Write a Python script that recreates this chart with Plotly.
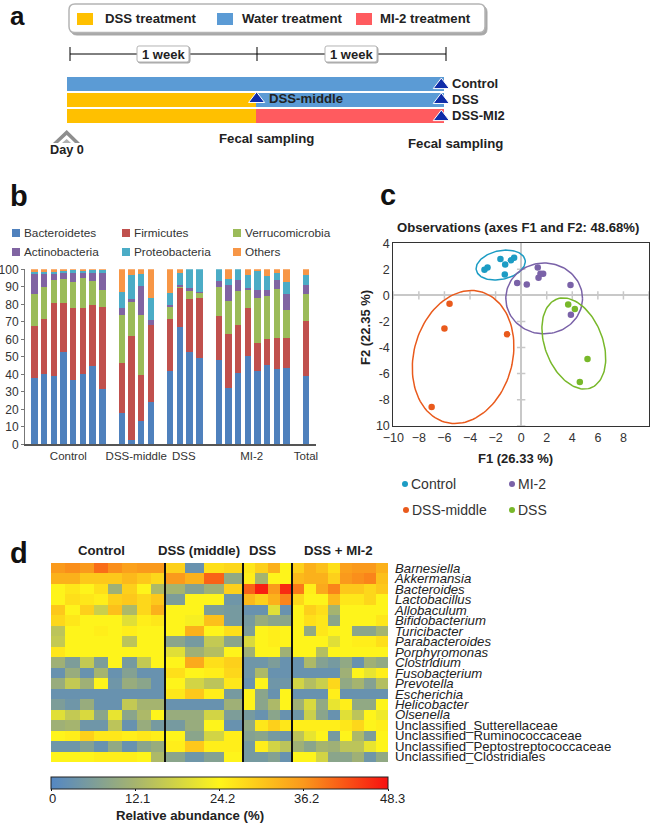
import numpy as np
import plotly.graph_objects as go

W, H = 651, 823
FONT = "Liberation Sans"
INK = "#222222"

# ---------- panel a data ----------
TREATMENT_ROWS = ["Control", "DSS", "DSS-MI2"]
DSS_DAYS = [0, 7, 7]
WATER_DAYS = [14, 7, 0]
MI2_DAYS = [0, 0, 7]
SAMPLING_DAY = [13.9, 13.9, 13.9, 7.05]
SAMPLING_ROW = [0.1, 1.03, 2.1, 0.97]

# ---------- panel b data ----------
SAMPLE_SLOTS = [0, 1, 2, 3, 4, 5, 6, 7, 9, 10, 11, 12, 14, 15, 16, 17, 19, 20, 21, 22, 23, 24, 25, 26, 28]
GROUP_TICKS = [3.5, 10.5, 15.4, 22.4, 28]
GROUP_LABELS = ["Control", "DSS-middle", "DSS", "MI-2", "Total"]
BACTEROIDETES = [37.5, 40, 39, 52.5, 36.5, 40, 44.5, 31.5, 17.5, 2.5, 13, 24, 42, 67, 52.5, 49, 47.8, 31.8, 40.4, 50.5, 41.5, 45, 43, 43.6, 39]
FIRMICUTES = [30, 31.5, 41.5, 28, 41.5, 38, 35, 47, 29, 59, 26.5, 44, 29.5, 22.5, 30.5, 34.4, 25.5, 31.2, 27.6, 27.2, 16, 15, 17.8, 17.2, 31.3]
VERRUCOMICROBIA = [18.5, 18.5, 13, 14, 14.5, 17, 13.5, 9.5, 27.5, 19.5, 34.5, 0, 7, 0.5, 4.6, 3.2, 16.7, 19, 19.6, 10.3, 25.9, 24.8, 27.8, 16, 15.7]
ACTINOBACTERIA = [11.5, 7, 4, 3, 5, 2.5, 4.5, 10, 4, 2, 16.5, 3, 1, 1, 1.4, 0.4, 3, 9, 6.4, 1, 4.6, 3.2, 5.4, 9.2, 5]
PROTEOBACTERIA = [1, 1.5, 1, 1.5, 2, 1.5, 2, 1.5, 9, 13.5, 6.5, 12.5, 7, 7, 11, 13, 7, 3.5, 6, 7.4, 10.7, 8, 4, 6.8, 5.8]
OTHERS = [1.5, 1.5, 1.5, 1, 0.5, 1, 0.5, 0.5, 13, 3.5, 3, 16.5, 13.5, 2, 0, 0, 0, 5.5, 0, 3.6, 1.3, 4, 2, 7.2, 3.2]
PHYLA = [("Bacteroidetes", BACTEROIDETES, "#4F81BD"), ("Firmicutes", FIRMICUTES, "#C0504D"),
         ("Verrucomicrobia", VERRUCOMICROBIA, "#9BBB59"), ("Actinobacteria", ACTINOBACTERIA, "#8064A2"),
         ("Proteobacteria", PROTEOBACTERIA, "#4BACC6"), ("Others", OTHERS, "#F79646")]

# ---------- panel c data ----------
CONTROL_F1 = [-1.62, -0.55, -0.8, -1.25, -2.63, -2.87, -1.28]
CONTROL_F2 = [2.79, 2.89, 2.69, 2.38, 2.15, 1.97, 1.61]
MI2_F1 = [1.3, 1.51, 1.72, 1.36, -0.31, 0.44, 3.86, 3.89]
MI2_F2 = [2.15, 1.66, 1.66, 1.36, 0.95, 0.84, 0.79, -1.48]
MIDDLE_F1 = [-5.6, -6.0, -1.1, -7.0]
MIDDLE_F2 = [-0.64, -2.53, -2.99, -8.57]
DSS_F1 = [3.68, 4.2, 5.19, 4.59]
DSS_F2 = [-0.69, -1.05, -4.89, -6.65]
GROUPS_C = [("Control", CONTROL_F1, CONTROL_F2, "#1C9CC4", (-1.6, 2.33, 1.95, 1.1, 11.7)),
            ("MI-2", MI2_F1, MI2_F2, "#7A62A8", (1.8, -0.23, 3.0, 2.72, 0)),
            ("DSS-middle", MIDDLE_F1, MIDDLE_F2, "#E95A1C", (-4.54, -4.73, 5.2, 3.85, 73.7)),
            ("DSS", DSS_F1, DSS_F2, "#78B82A", (4.12, -3.69, 3.66, 2.25, 111.9))]

# ---------- panel d data ----------
GENERA = ["Barnesiella", "Akkermansia", "Bacteroides", "Lactobacillus", "Allobaculum", "Bifidobacterium",
          "Turicibacter", "Parabacteroides", "Porphyromonas", "Clostridium", "Fusobacterium", "Prevotella",
          "Escherichia", "Helicobacter", "Olsenella"]
UNCLASSIFIED = ["Unclassified_Sutterellaceae", "Unclassified_Ruminococcaceae",
                "Unclassified_Peptostreptococcaceae", "Unclassified_Clostridiales"]
ABUNDANCE = [
    [36, 37, 36, 40, 37, 35, 36, 36, 29, 3, 27, 28, 26, 29, 33, 24, 29, 33, 31, 27, 35, 36, 36, 33],
    [33, 33, 30, 30, 30, 32, 30, 28, 36, 33, 41, 9, 25, 12, 24, 24, 32, 33, 33, 29, 36, 37, 38, 31],
    [24, 26, 24, 27, 11, 29, 24, 13, 12, 7, 11, 29, 41, 47, 36, 46, 39, 25, 34, 38, 30, 30, 28, 30],
    [24, 27, 26, 25, 29, 30, 28, 30, 6, 24, 24, 4, 32, 29, 33, 38, 28, 24, 24, 32, 26, 26, 28, 24],
    [30, 24, 29, 17, 31, 13, 28, 33, 24, 24, 6, 5, 3, 3, 20, 3, 24, 29, 27, 12, 24, 24, 24, 24],
    [28, 26, 24, 24, 24, 20, 25, 26, 24, 23, 31, 5, 5, 10, 8, 8, 24, 27, 26, 8, 24, 24, 24, 26],
    [15, 24, 24, 25, 24, 25, 24, 24, 24, 33, 24, 27, 6, 24, 25, 24, 24, 9, 26, 24, 24, 8, 8, 12],
    [16, 24, 24, 24, 24, 15, 24, 24, 8, 5, 16, 8, 19, 24, 25, 24, 24, 24, 24, 20, 24, 25, 25, 27],
    [26, 24, 24, 24, 24, 24, 24, 24, 20, 11, 14, 24, 11, 24, 24, 11, 24, 24, 14, 24, 24, 24, 24, 24],
    [11, 6, 16, 6, 24, 5, 16, 24, 24, 34, 27, 29, 4, 4, 6, 3, 3, 13, 7, 5, 9, 3, 11, 9],
    [3, 10, 3, 12, 3, 7, 3, 3, 27, 24, 25, 28, 4, 13, 3, 3, 3, 3, 3, 3, 11, 24, 21, 25],
    [10, 16, 11, 24, 4, 10, 8, 3, 24, 18, 15, 26, 3, 24, 4, 4, 18, 14, 17, 28, 9, 12, 7, 14],
    [3, 3, 3, 3, 3, 3, 3, 3, 26, 30, 25, 5, 24, 8, 3, 24, 3, 3, 3, 25, 3, 3, 3, 3],
    [6, 4, 10, 3, 3, 16, 12, 12, 3, 3, 3, 11, 24, 8, 13, 24, 11, 19, 9, 21, 25, 9, 9, 24],
    [20, 16, 19, 8, 21, 8, 13, 24, 10, 10, 18, 6, 5, 3, 8, 3, 4, 17, 8, 3, 20, 15, 24, 22],
    [11, 12, 4, 4, 15, 3, 10, 5, 5, 10, 24, 3, 9, 26, 29, 26, 25, 25, 25, 25, 26, 28, 24, 25],
    [24, 25, 29, 26, 26, 25, 26, 25, 24, 8, 18, 25, 7, 8, 5, 4, 15, 21, 24, 5, 24, 13, 6, 24],
    [4, 4, 7, 3, 9, 3, 8, 10, 25, 30, 25, 25, 5, 25, 18, 15, 11, 8, 12, 11, 15, 15, 21, 24],
    [24, 24, 24, 25, 25, 25, 24, 13, 8, 4, 7, 24, 5, 5, 7, 3, 24, 24, 18, 8, 8, 11, 4, 9],
]
COLORBAR_TICKS = [0, 12.1, 24.2, 36.2, 48.3]
COLORBAR_LABELS = ["0", "12.1", "24.2", "36.2", "48.3"]
COLORSCALE = [[0, "#5487C4"], [0.25, "#A6B46E"], [0.5, "#FFF51A"], [0.75, "#FA981C"], [1, "#F81010"]]

# ---------- geometry helpers (page pixels → paper) ----------
def X(p): return p / W
def Y(p): return 1 - p / H
def dom_x(a, b): return [X(a), X(b)]
def dom_y(top, bottom): return [Y(bottom), Y(top)]

shapes, annotations = [], []

def text(x, y, s, size=12, bold=False, anchor="center", color=INK, angle=0):
    if anchor == "left":
        x -= 2   # annotation boxes carry a small inner padding
    annotations.append(dict(x=X(x), y=Y(y), xref="paper", yref="paper", text=s, showarrow=False,
                            xanchor=anchor, yanchor="middle", textangle=angle,
                            font=dict(family=FONT, size=size, color=color, weight="bold" if bold else "normal")))

def rect(x0, y0, x1, y1, fill, line=None, lw=0):
    shapes.append(dict(type="rect", xref="paper", yref="paper", x0=X(x0), x1=X(x1), y0=Y(y0), y1=Y(y1),
                       fillcolor=fill, line=dict(color=line or fill, width=lw)))

def line(x0, y0, x1, y1, color=INK, lw=1):
    shapes.append(dict(type="line", xref="paper", yref="paper", x0=X(x0), x1=X(x1), y0=Y(y0), y1=Y(y1),
                       line=dict(color=color, width=lw)))

def poly(points, fill):
    d = "M" + " L".join(f"{X(a):.5f},{Y(b):.5f}" for a, b in points) + " Z"
    shapes.append(dict(type="path", xref="paper", yref="paper", path=d, fillcolor=fill, line=dict(width=0)))

def rrect(x0, y0, x1, y1, r, fill, border, lw):
    p = lambda a, b: f"{X(a):.5f},{Y(b):.5f}"
    d = (f"M{p(x0+r,y0)} L{p(x1-r,y0)} Q{p(x1,y0)} {p(x1,y0+r)} L{p(x1,y1-r)} Q{p(x1,y1)} {p(x1-r,y1)} "
         f"L{p(x0+r,y1)} Q{p(x0,y1)} {p(x0,y1-r)} L{p(x0,y0+r)} Q{p(x0,y0)} {p(x0+r,y0)} Z")
    shapes.append(dict(type="path", xref="paper", yref="paper", path=d, fillcolor=fill,
                       line=dict(color=border, width=lw)))

def dot(x, y, r, fill):
    shapes.append(dict(type="circle", xref="paper", yref="paper", x0=X(x-r), x1=X(x+r), y0=Y(y+r), y1=Y(y-r),
                       fillcolor=fill, line=dict(width=0)))

fig = go.Figure()

# ---------- panel a ----------
row_index = list(range(len(TREATMENT_ROWS)))
for name, vals, col in [("DSS treatment", DSS_DAYS, "#FFC000"), ("Water treatment", WATER_DAYS, "#5B9BD5"),
                        ("MI-2 treatment", MI2_DAYS, "#FF5B5F")]:
    fig.add_trace(go.Bar(y=row_index, x=vals, orientation="h", marker=dict(color=col, line=dict(width=0)),
                         width=0.88, xaxis="x", yaxis="y", name=name, showlegend=False))
fig.add_trace(go.Scatter(x=SAMPLING_DAY, y=SAMPLING_ROW, mode="markers", xaxis="x", yaxis="y", showlegend=False,
                         cliponaxis=False,
                         marker=dict(symbol="triangle-up", size=14, color="#0F2CA8", line=dict(color="white", width=1))))
fig.update_layout(
    xaxis=dict(domain=dom_x(66.5, 444), range=[0, 14], visible=False, fixedrange=True, automargin=False),
    yaxis=dict(domain=dom_y(75.5, 123.5), range=[2.5, -0.5], type="linear", side="right", showline=False,
               showgrid=False, ticks="", zeroline=False, tickvals=row_index, ticktext=TREATMENT_ROWS,
               automargin=False, ticklabelstandoff=7, tickfont=dict(family=FONT, size=13, color=INK, weight="bold")),
)
rrect(71, 6, 487, 35, 6, "#A8A8A8", "#A8A8A8", 1)
rrect(69, 4, 485, 32.5, 6, "white", "#B4B4B4", 1.5)
for x0, col, label, tx in [(77, "#FFC000", "DSS treatment", 105), (217, "#5B9BD5", "Water treatment", 242),
                           (356, "#FF5B5F", "MI-2 treatment", 380)]:
    rect(x0, 13, x0 + 16, 25, col)
    text(tx, 18.5, label, 13.2, True, "left")
line(70, 54, 446, 54, "#000000", 1)
for xt in (70, 257, 446):
    line(xt, 47, xt, 61, "#000000", 1)
for x0 in (137, 325):
    rrect(x0 + 1, 47, x0 + 53, 63, 2, "#A8A8A8", "#A8A8A8", 1)
    rrect(x0, 46, x0 + 52, 62, 2, "white", "#B4B4B4", 1)
    text(x0 + 26, 54, "1 week", 13, True)
text(269, 98.5, "DSS-middle", 13.2, True, "left")
text(266, 138, "Fecal sampling", 13.2, True)
text(455, 143, "Fecal sampling", 13.2, True)
text(66.5, 150, "Day 0", 12.7, True)
poly([(53, 143), (66.7, 130), (80, 143), (75, 143), (66.7, 135), (58, 143)], "#8E8E8E")
poly([(62, 143), (66.7, 139), (71, 143)], "#B0B0B0")
text(10, 15.5, "a", 26, True, "left", "#111111")
text(10, 196, "b", 29, True, "left", "#111111")
text(380, 195, "c", 29, True, "left", "#111111")
text(10, 553, "d", 29, True, "left", "#111111")

# ---------- panel b ----------
for name, vals, col in PHYLA:
    fig.add_trace(go.Bar(x=SAMPLE_SLOTS, y=vals, name=name, xaxis="x2", yaxis="y2", width=0.66, showlegend=False,
                         marker=dict(color=col, line=dict(width=0))))
fig.update_layout(
    barmode="stack", bargap=0,
    xaxis2=dict(domain=dom_x(25, 315.7), range=[-0.97, 29], tickvals=GROUP_TICKS, ticktext=GROUP_LABELS,
                showline=True, linecolor="#555555", linewidth=1.5, ticks="", showgrid=False, zeroline=False,
                automargin=False, anchor="y2", tickfont=dict(family=FONT, size=11.5, color="#333333")),
    yaxis2=dict(domain=dom_y(269.3, 444.3), range=[0, 100], tick0=0, dtick=10, showline=True, linecolor="#777777",
                linewidth=1, ticks="outside", ticklen=3, tickcolor="#777777", showgrid=False, zeroline=False,
                automargin=False, anchor="x2", tickfont=dict(family=FONT, size=12, color="#333333")),
)
for (name, _, col), (sx, sy) in zip(PHYLA, [(12, 233), (122, 233), (233, 233), (12, 252), (122, 252), (233, 252)]):
    rect(sx, sy - 4, sx + 8, sy + 4, col)
    text(sx + 12.3, sy, name, 11.8, False, "left", "#333333")

# ---------- panel c ----------
fig.add_trace(go.Scatter(x=[-10, -8, -6, -4, -2, 2, 4, 6, 8, 10], y=[0] * 10, mode="markers", xaxis="x3", yaxis="y3",
                         showlegend=False, marker=dict(symbol="line-ns", size=6, line=dict(color="#C8C8C8", width=1.5))))
fig.add_trace(go.Scatter(x=[0] * 6, y=[-10, -8, -6, -4, -2, 2], mode="markers", xaxis="x3", yaxis="y3",
                         showlegend=False, marker=dict(symbol="line-ew", size=6, line=dict(color="#C8C8C8", width=1.5))))
theta = np.linspace(0, 2 * np.pi, 121)
for name, fx, fy, col, (cx, cy, a, b, tilt) in GROUPS_C:
    t = np.deg2rad(tilt)
    ex = cx + a * np.cos(theta) * np.cos(t) - b * np.sin(theta) * np.sin(t)
    ey = cy + a * np.cos(theta) * np.sin(t) + b * np.sin(theta) * np.cos(t)
    fig.add_trace(go.Scatter(x=ex, y=ey, mode="lines", line=dict(color=col, width=1.5), xaxis="x3", yaxis="y3",
                             showlegend=False, hoverinfo="skip"))
    fig.add_trace(go.Scatter(x=fx, y=fy, mode="markers", marker=dict(size=6.5, color=col), xaxis="x3", yaxis="y3",
                             name=name, showlegend=False))
fig.update_layout(
    xaxis3=dict(domain=dom_x(393.3, 649), range=[-10, 10], tickvals=list(range(-10, 11, 2)), showgrid=False,
                zeroline=True, zerolinecolor="#C8C8C8", zerolinewidth=1.5, showline=True, mirror=True,
                linecolor="#333333", linewidth=1, ticks="", anchor="y3", automargin=False,
                tickfont=dict(family=FONT, size=12.5, color="#333333")),
    yaxis3=dict(domain=dom_y(243.3, 425.7), range=[-10, 4], tickvals=[-10, -8, -6, -4, -2, 0, 2, 4],
                ticktext=["10", "-8", "-6", "-4", "-2", "0", "2", "4"], showgrid=False, zeroline=True,
                zerolinecolor="#C8C8C8", zerolinewidth=1.5, showline=True, mirror=True, linecolor="#333333",
                linewidth=1, ticks="", anchor="x3", automargin=False,
                tickfont=dict(family=FONT, size=12.5, color="#333333")),
)
text(518, 227, "Observations (axes F1 and F2: 48.68%)", 13.1, True)
text(515, 458, "F1 (26.33 %)", 13, True)
text(365, 328, "F2 (22.35 %)", 13, True, angle=-90)
for (name, _, _, col, _), (lx, ly) in zip(GROUPS_C, [(405, 484), (512, 484), (406, 510), (512, 510)]):
    dot(lx, ly, 3, col)
    text(lx + 6, ly, name, 14, False, "left", "#333333")

# ---------- panel d ----------
COLUMN_WIDTHS = [14.25] * 8 + [19.5] * 4 + [12.25] * 4 + [12] * 8
col_edges = np.concatenate([[0], np.cumsum(COLUMN_WIDTHS)])
row_labels = [f"<i>{g}</i>" for g in GENERA] + UNCLASSIFIED
fig.add_trace(go.Heatmap(
    z=ABUNDANCE, x=col_edges, y=row_labels, xaxis="x4", yaxis="y4", colorscale=COLORSCALE, zmin=0, zmax=48.3,
    xgap=0, ygap=0,
    colorbar=dict(orientation="h", lenmode="pixels", len=337, thicknessmode="pixels", thickness=12,
                  x=X(219.5), xanchor="center", y=Y(777), yanchor="top", tickvals=COLORBAR_TICKS,
                  showticklabels=False, ticks="outside", ticklen=2, tickcolor="#111111",
                  outlinecolor="#222222", outlinewidth=1, xpad=0, ypad=0)))
fig.update_layout(
    xaxis4=dict(domain=dom_x(51, 388), range=[0, 337], visible=False, anchor="y4", automargin=False),
    yaxis4=dict(domain=dom_y(563, 762), autorange="reversed", side="right", anchor="x4", ticks="", showgrid=False,
                zeroline=False, showline=False, ticklabelstandoff=6, tickmode="array", tickvals=row_labels,
                automargin=False, ticktext=row_labels, tickfont=dict(family=FONT, size=13.2, color="#222222")),
)
for e in (col_edges[8], col_edges[12], col_edges[16]):
    shapes.append(dict(type="line", xref="x4", yref="paper", x0=e, x1=e, y0=Y(762), y1=Y(563),
                       line=dict(color="#111111", width=2)))
for cx, s in [(102, "Control"), (199, "DSS (middle)"), (262, "DSS"), (338, "DSS + MI-2")]:
    text(cx, 550, s, 13.2, True)
for v, s in zip(COLORBAR_TICKS, COLORBAR_LABELS):
    text(52.6 + v / 48.3 * 339.4, 798, s, 13, False, "center", "#222222")
text(190, 815, "Relative abundance (%)", 13.2, True)

fig.update_layout(template="none", width=W, height=H, margin=dict(l=0, r=0, t=0, b=0), autosize=False,
                  paper_bgcolor="white", plot_bgcolor="white", shapes=shapes, annotations=annotations,
                  font=dict(family=FONT, color=INK), showlegend=False)
fig.write_html("out.html", config={"displayModeBar": False}, post_script="document.body.style.margin='0';")
